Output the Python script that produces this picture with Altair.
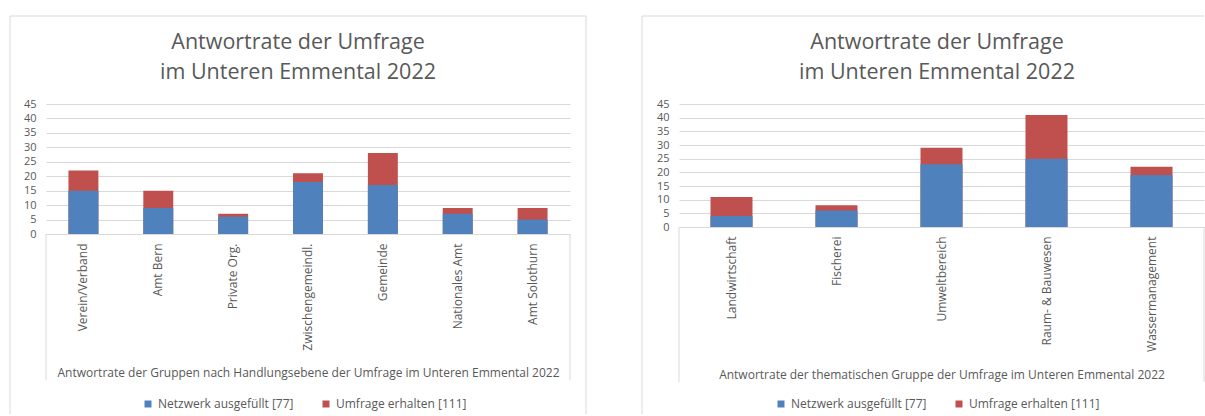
import altair as alt
import pandas as pd

# Responses per group: completed network questionnaires vs. surveys received
levels = ["Verein/Verband", "Amt Bern", "Private Org.", "Zwischengemeindl.",
          "Gemeinde", "Nationales Amt", "Amt Solothurn"]
levels_filled = [15, 9, 6, 18, 17, 7, 5]
levels_received = [22, 15, 7, 21, 28, 9, 9]

themes = ["Landwirtschaft", "Fischerei", "Umweltbereich",
          "Raum- & Bauwesen", "Wassermanagement"]
themes_filled = [4, 6, 23, 25, 19]
themes_received = [11, 8, 29, 41, 22]

series = ["Netzwerk ausgefüllt [77]", "Umfrage erhalten [111]"]
colors = ["#4F81BD", "#C0504D"]
y_ticks = [0, 5, 10, 15, 20, 25, 30, 35, 40, 45]

chart_title = "Antwortrate der Umfrage\nim Unteren Emmental 2022"
levels_axis_title = "Antwortrate der Gruppen nach Handlungsebene der Umfrage im Unteren Emmental 2022"
themes_axis_title = "Antwortrate der thematischen Gruppe der Umfrage im Unteren Emmental 2022"

FONT = "Open Sans"
TEXT = "#595959"
LINE = "#d9d9d9"


def long_table(cats, filled, received):
    # received bars first so the completed part is painted over them
    rows = [{"Gruppe": c, "Serie": series[1], "Anzahl": r} for c, r in zip(cats, received)]
    rows += [{"Gruppe": c, "Serie": series[0], "Anzahl": f} for c, f in zip(cats, filled)]
    return pd.DataFrame(rows)


def panel(cats, filled, received, width, height, axis_title, title_y, box_h,
          frame_left, frame_top, frame_right, frame_bottom, title_x,
          y_label_size=11, right_side=True):
    one = pd.DataFrame({"k": [0]})
    base = alt.Chart(one)

    frame = [
        base.mark_rule(color=LINE, strokeWidth=1).encode(
            x=alt.value(frame_left), x2=alt.value(frame_right), y=alt.value(frame_top)),
        base.mark_rule(color=LINE, strokeWidth=1).encode(
            x=alt.value(frame_left), y=alt.value(frame_top), y2=alt.value(frame_bottom)),
    ]
    if right_side:
        frame.append(base.mark_rule(color=LINE, strokeWidth=1).encode(
            x=alt.value(frame_right), y=alt.value(frame_top), y2=alt.value(frame_bottom)))

    box = [
        base.mark_rule(color=LINE, strokeWidth=1).encode(
            x=alt.value(0), y=alt.value(height), y2=alt.value(height + box_h)),
        base.mark_rule(color=LINE, strokeWidth=1).encode(
            x=alt.value(width), y=alt.value(height), y2=alt.value(height + box_h)),
    ]

    title = base.mark_text(
        font=FONT, fontSize=21.5, fontWeight="normal", color=TEXT, align="center",
        baseline="alphabetic", lineBreak="\n", lineHeight=30,
    ).encode(x=alt.value(title_x), y=alt.value(-55), text=alt.value(chart_title))

    bars = alt.Chart(long_table(cats, filled, received)).mark_bar().encode(
        x=alt.X("Gruppe:N", sort=cats,
                scale=alt.Scale(paddingInner=0.6, paddingOuter=0.3),
                axis=alt.Axis(title=axis_title, labelAngle=270, labelPadding=9,
                              ticks=False, domainColor=LINE, labelFont=FONT,
                              labelFontSize=12, labelColor=TEXT, titleFont=FONT,
                              titleFontSize=12, titleFontWeight="normal",
                              titleColor=TEXT, titleY=title_y, titleBaseline="middle",
                              labelLimit=300)),
        y=alt.Y("Anzahl:Q", stack=None,
                scale=alt.Scale(domain=[0, 45], nice=False),
                axis=alt.Axis(title=None, values=y_ticks, ticks=False, domain=False,
                              labelPadding=10, labelFont=FONT,
                              labelFontSize=y_label_size,
                              labelColor=TEXT, gridColor=LINE, gridWidth=1)),
        color=alt.Color("Serie:N",
                        scale=alt.Scale(domain=series, range=colors),
                        legend=alt.Legend(orient="none", legendX=96, legendY=294,
                                          direction="horizontal", title=None,
                                          symbolType="square", symbolSize=49,
                                          symbolStrokeWidth=0, labelFont=FONT,
                                          labelFontSize=12, labelColor=TEXT,
                                          columnPadding=26, labelOffset=4)),
    )

    return alt.layer(*frame, *box, title, bars).properties(width=width, height=height)


left = panel(levels, levels_filled, levels_received, 524, 130, levels_axis_title,
             138, 146, -36, -88, 540, 310, 252)
right = panel(themes, themes_filled, themes_received, 525, 123, themes_axis_title,
              147, 155, -37, -88, 525, 310, 258, right_side=False)

chart = (
    alt.hconcat(left, right, spacing=54)
    .resolve_scale(x="independent", y="independent", color="independent")
    .properties(padding={"left": 9, "top": 15, "right": 0, "bottom": 0},
                background="white")
    .configure_view(stroke=None)
)

chart.save("out.html", embed_options={"renderer": "svg", "actions": False})
